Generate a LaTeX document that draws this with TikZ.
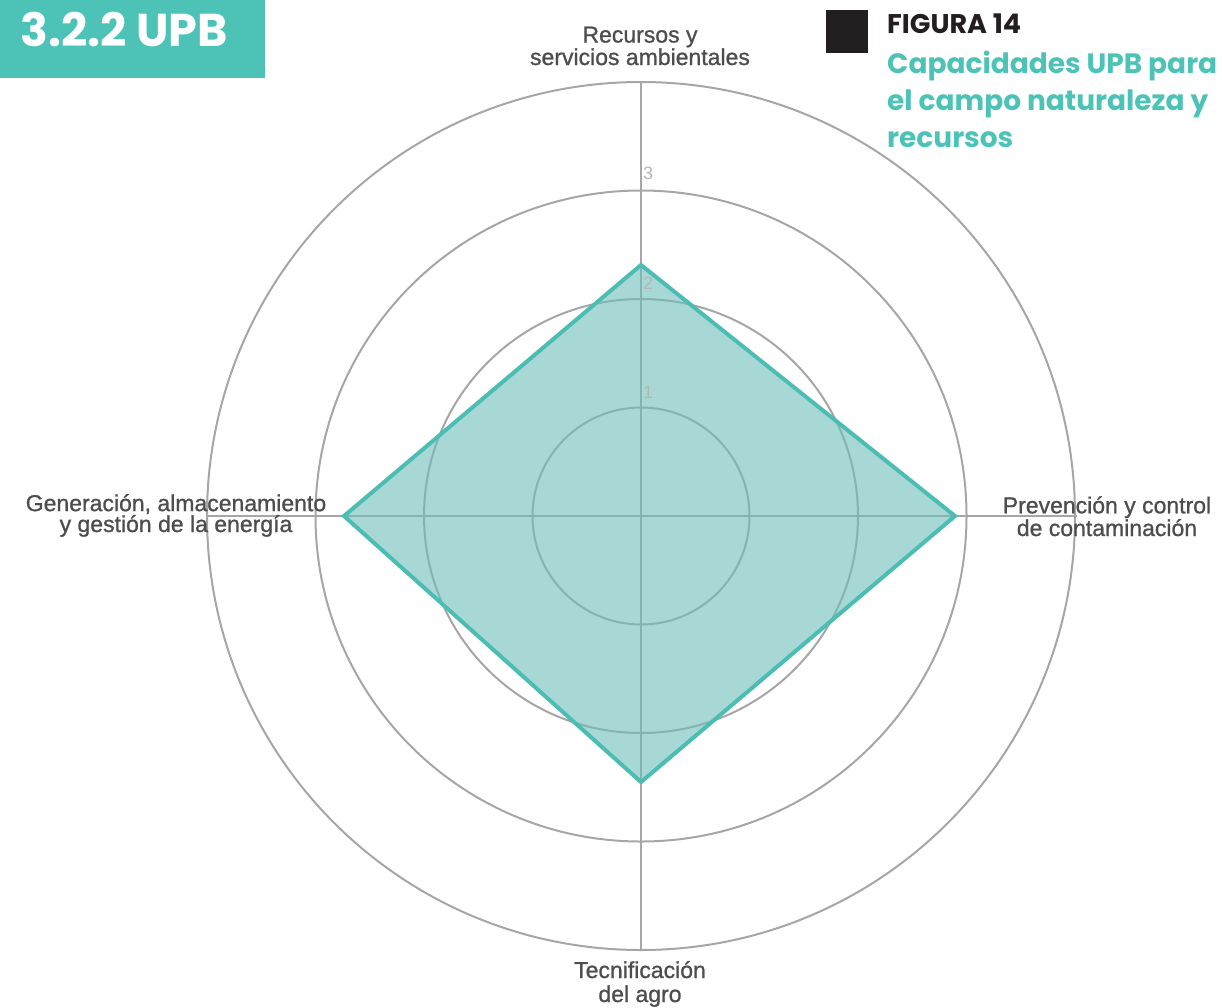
\documentclass[tikz,border=0pt]{standalone}
\usepackage{fontspec}
\setmainfont{Liberation Sans}
\newfontfamily\popfont{Poppins}
\newfontfamily\labfont[FakeBold=1]{Liberation Sans}
\definecolor{teal1}{HTML}{4DC3B8}
\definecolor{tealline}{HTML}{4CBDB3}
\definecolor{tealfill}{HTML}{6EBEB9}
\definecolor{gridgray}{HTML}{A6A6A6}
\definecolor{ticktext}{HTML}{B5B5B5}
\definecolor{labelgray}{HTML}{4D4D4D}
\definecolor{darkbox}{HTML}{231F20}
\begin{document}
\begin{tikzpicture}[x=1pt,y=-1pt,
  gridcircle/.style={draw=gridgray,line width=2pt},
  axisline/.style={draw=gridgray,line width=2pt},
  axislabel/.style={font=\labfont\fontsize{23}{19}\selectfont, text=labelgray, align=center, inner sep=0pt},
  ticklabel/.style={font=\fontsize{18}{18}\selectfont, text=ticktext, inner sep=0pt},
  datafill/.style={fill=tealfill, fill opacity=0.6},
  dataline/.style={draw=tealline, line width=4pt, line join=miter},
  headbox/.style={fill=teal1, draw=none},
  headtext/.style={font=\popfont\bfseries\fontsize{46}{46}\selectfont, text=white, inner sep=0pt},
  figlabel/.style={font=\popfont\bfseries\fontsize{27}{27}\selectfont, text=darkbox, inner sep=0pt},
  figtitle/.style={font=\popfont\bfseries\fontsize{28}{37}\selectfont, text=teal1, align=left, inner sep=0pt}
]
\useasboundingbox (0,0) rectangle (1222,1007);
% header
\fill[headbox] (0,0) rectangle (265,78);
\node[headtext, anchor=base west] (head) at (20,46) {3.2.2 UPB};
\fill[darkbox] (826,10) rectangle (868,53);
\node[figlabel, anchor=base west] (fig) at (887,33) {FIGURA 14};
\node[figtitle, anchor=base west] (title) at (887,147) {Capacidades UPB para\\el campo naturaleza y\\recursos};
% grid
\coordinate (c) at (641,516);
\foreach \r in {1,2,3,4} {
  \draw[gridcircle] (c) circle[radius=\r*108.5pt];
}
\coordinate (axN) at (641,82);
\coordinate (axE) at (1077,516);
\coordinate (axS) at (641,950);
\coordinate (axW) at (207,516);
\draw[axisline] (c) -- (axN);
\draw[axisline] (c) -- (axE);
\draw[axisline] (c) -- (axS);
\draw[axisline] (c) -- (axW);
% data
\coordinate (pN) at (641,265);
\coordinate (pE) at (955,516);
\coordinate (pS) at (641,782);
\coordinate (pW) at (344,516);
\fill[datafill] (pN) -- (pE) -- (pS) -- (pW) -- cycle;
\draw[dataline] (pN) -- (pE) -- (pS) -- (pW) -- cycle;
% tick labels
\node[ticklabel] (t1) at (648,392) {1};
\node[ticklabel] (t2) at (648,283) {2};
\node[ticklabel] (t3) at (648,173) {3};
% axis labels
\node[axislabel, anchor=base] (lN) at (640,65) {Recursos y\\servicios ambientales};
\node[axislabel, anchor=base] (lW) at (176,532) {Generación, almacenamiento\\y gestión de la energía};
\node[axislabel, anchor=base] (lE) at (1107,536) {Prevención y control\\de contaminación};
\node[axislabel, anchor=base, font=\labfont\fontsize{23}{24}\selectfont] (lS) at (640,1002) {Tecnificación\\del agro};
\end{tikzpicture}
\end{document}
